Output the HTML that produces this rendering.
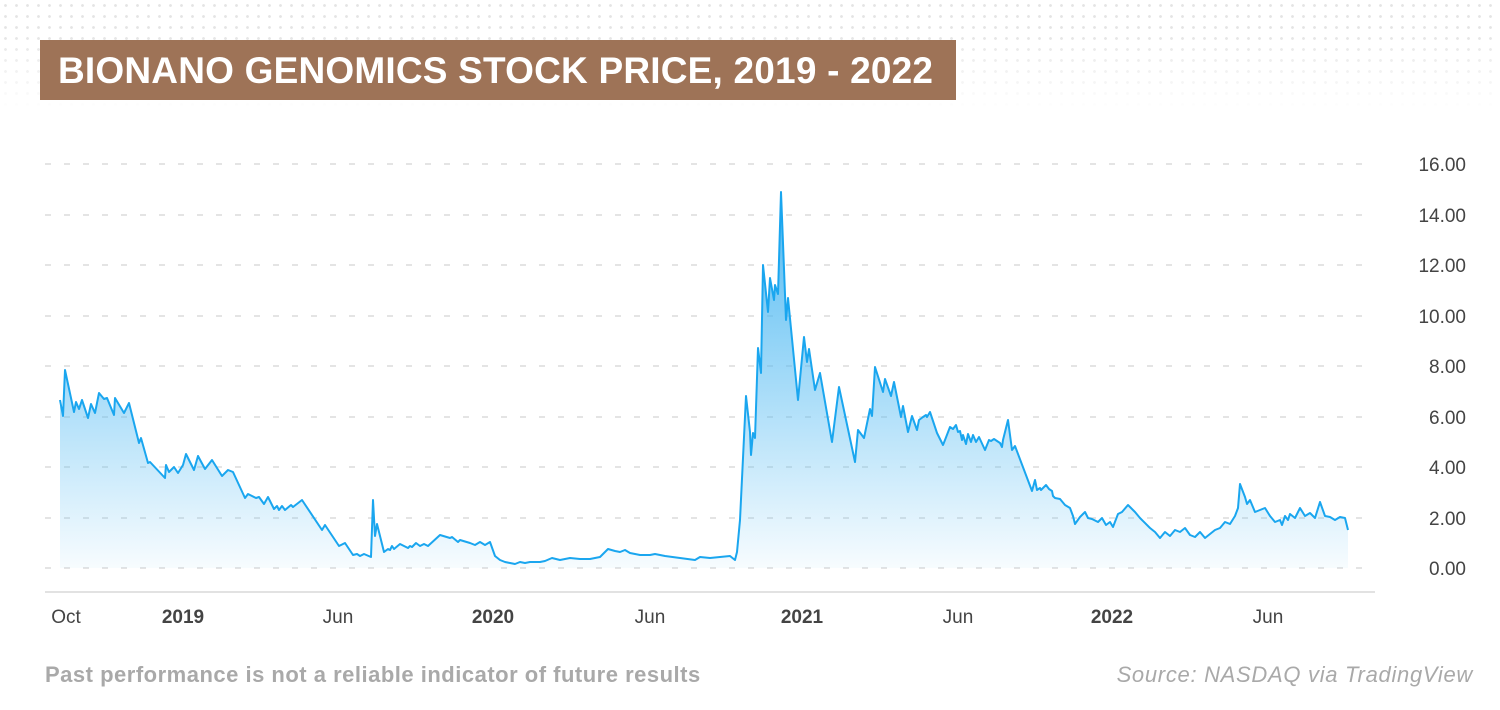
<!DOCTYPE html>
<html><head><meta charset="utf-8"><style>
body{margin:0;width:1500px;height:710px;background:#fff;overflow:hidden;font-family:"Liberation Sans",sans-serif;position:relative}
.dots{position:absolute;left:0;top:0;width:1500px;height:110px;background-image:radial-gradient(circle,#e4e4e4 1.2px,transparent 1.6px);background-size:11px 11px;-webkit-mask-image:linear-gradient(180deg,#000 30%,transparent);mask-image:linear-gradient(180deg,#000 30%,transparent)}
.title{position:absolute;left:40px;top:40px;width:916px;height:60px;background:#9e7357;color:#fff;font-weight:bold;font-size:37px;line-height:62px;padding-left:18px;box-sizing:border-box;letter-spacing:0.2px}
.foot{position:absolute;top:662px;font-size:22px;color:#a9a9a9}
</style></head><body>
<div class="dots"></div>
<div class="title">BIONANO GENOMICS STOCK PRICE, 2019 - 2022</div>
<svg width="1500" height="710" style="position:absolute;left:0;top:0">
<defs><linearGradient id="g" gradientUnits="userSpaceOnUse" x1="0" y1="190" x2="0" y2="570">
<stop offset="0" stop-color="#4fb9f2"/><stop offset="1" stop-color="#4fb9f2" stop-opacity="0.04"/></linearGradient></defs>
<g stroke="#dcdcdc" stroke-width="1.5" stroke-dasharray="6,13">
<line x1="45" x2="1365" y1="164" y2="164"/><line x1="45" x2="1365" y1="215" y2="215"/><line x1="45" x2="1365" y1="265" y2="265"/><line x1="45" x2="1365" y1="316" y2="316"/><line x1="45" x2="1365" y1="366" y2="366"/><line x1="45" x2="1365" y1="417" y2="417"/><line x1="45" x2="1365" y1="467" y2="467"/><line x1="45" x2="1365" y1="518" y2="518"/><line x1="45" x2="1365" y1="568" y2="568"/>
</g>
<line x1="45" x2="1375" y1="592" y2="592" stroke="#d8d8d8" stroke-width="1.5"/>
<g font-size="19" fill="#444" text-anchor="end">
<text x="1466" y="171">16.00</text><text x="1466" y="222">14.00</text><text x="1466" y="272">12.00</text><text x="1466" y="323">10.00</text><text x="1466" y="373">8.00</text><text x="1466" y="424">6.00</text><text x="1466" y="474">4.00</text><text x="1466" y="525">2.00</text><text x="1466" y="575">0.00</text>
</g>
<g font-size="19" fill="#444" text-anchor="middle">
<text x="66" y="623">Oct</text><text x="183" y="623" font-weight="bold">2019</text><text x="338" y="623">Jun</text><text x="493" y="623" font-weight="bold">2020</text><text x="650" y="623">Jun</text><text x="802" y="623" font-weight="bold">2021</text><text x="958" y="623">Jun</text><text x="1112" y="623" font-weight="bold">2022</text><text x="1268" y="623">Jun</text>
</g>
<path fill="url(#g)" stroke="none" d="M60,568 L60,400 63,416 65,370 74,412 76,402 79,409 82,400 88,418 91,404 95,413 99,393 104,399 107,398 114,415 115,398 124,413 129,403 139,443 141,438 148,463 150,462 165,478 166,465 169,472 174,467 178,473 183,465 186,454 194,470 198,456 205,469 212,460 222,476 228,470 233,472 245,498 248,494 256,498 259,497 264,504 268,497 274,509 277,506 279,510 282,506 285,510 291,505 293,507 302,500 322,530 325,525 339,546 345,543 353,555 357,554 360,556 364,554 371,557 373,500 375,536 377,524 384,552 388,549 390,550 392,546 394,549 400,544 408,548 410,546 412,547 416,543 420,546 424,544 428,546 440,535 450,538 452,537 458,542 460,540 470,543 475,545 480,542 485,545 490,542 495,556 500,560 505,562 510,563 515,564 520,562 525,563 530,562 540,562 545,561 552,558 560,560 570,558 580,559 590,559 600,557 608,549 615,551 620,552 625,550 630,553 635,554 640,555 650,555 655,554 665,556 680,558 695,560 700,557 710,558 720,557 730,556 735,560 737,552 740,520 746,396 750,432 751,455 753,433 755,438 758,348 761,373 763,265 768,312 770,278 774,300 775,285 778,294 781,192 786,320 788,298 798,400 804,337 807,362 809,349 815,390 820,373 832,442 839,387 855,462 858,430 864,438 870,409 872,416 875,367 883,392 885,379 891,396 894,382 901,417 903,406 908,432 912,416 917,430 919,420 923,417 926,415 927,417 930,412 937,433 943,445 945,440 950,427 953,429 956,425 958,432 960,431 962,440 963,435 966,444 968,434 971,442 973,435 976,442 979,437 985,450 989,440 991,441 994,439 1000,443 1002,447 1003,440 1008,420 1010,435 1012,450 1015,446 1032,491 1035,480 1037,490 1040,488 1041,490 1046,485 1049,489 1052,491 1053,496 1055,498 1060,499 1065,505 1070,508 1073,516 1075,524 1080,517 1085,512 1088,518 1092,519 1098,522 1102,518 1106,525 1110,522 1113,527 1118,514 1122,512 1128,505 1135,512 1140,518 1150,528 1155,532 1160,538 1165,532 1170,536 1175,530 1180,532 1185,528 1190,535 1195,537 1200,532 1205,538 1210,534 1215,530 1220,528 1225,522 1230,524 1235,516 1238,508 1240,484 1245,497 1247,504 1250,500 1255,512 1260,510 1265,508 1270,516 1275,522 1280,520 1282,525 1285,516 1288,520 1290,514 1295,518 1300,508 1305,516 1310,513 1315,518 1320,502 1325,516 1330,517 1335,520 1340,517 1345,518 1348,530 L1348,568 Z"/>
<path fill="none" stroke="#1aa6ef" stroke-width="2" stroke-linejoin="round" d="M60,400 63,416 65,370 74,412 76,402 79,409 82,400 88,418 91,404 95,413 99,393 104,399 107,398 114,415 115,398 124,413 129,403 139,443 141,438 148,463 150,462 165,478 166,465 169,472 174,467 178,473 183,465 186,454 194,470 198,456 205,469 212,460 222,476 228,470 233,472 245,498 248,494 256,498 259,497 264,504 268,497 274,509 277,506 279,510 282,506 285,510 291,505 293,507 302,500 322,530 325,525 339,546 345,543 353,555 357,554 360,556 364,554 371,557 373,500 375,536 377,524 384,552 388,549 390,550 392,546 394,549 400,544 408,548 410,546 412,547 416,543 420,546 424,544 428,546 440,535 450,538 452,537 458,542 460,540 470,543 475,545 480,542 485,545 490,542 495,556 500,560 505,562 510,563 515,564 520,562 525,563 530,562 540,562 545,561 552,558 560,560 570,558 580,559 590,559 600,557 608,549 615,551 620,552 625,550 630,553 635,554 640,555 650,555 655,554 665,556 680,558 695,560 700,557 710,558 720,557 730,556 735,560 737,552 740,520 746,396 750,432 751,455 753,433 755,438 758,348 761,373 763,265 768,312 770,278 774,300 775,285 778,294 781,192 786,320 788,298 798,400 804,337 807,362 809,349 815,390 820,373 832,442 839,387 855,462 858,430 864,438 870,409 872,416 875,367 883,392 885,379 891,396 894,382 901,417 903,406 908,432 912,416 917,430 919,420 923,417 926,415 927,417 930,412 937,433 943,445 945,440 950,427 953,429 956,425 958,432 960,431 962,440 963,435 966,444 968,434 971,442 973,435 976,442 979,437 985,450 989,440 991,441 994,439 1000,443 1002,447 1003,440 1008,420 1010,435 1012,450 1015,446 1032,491 1035,480 1037,490 1040,488 1041,490 1046,485 1049,489 1052,491 1053,496 1055,498 1060,499 1065,505 1070,508 1073,516 1075,524 1080,517 1085,512 1088,518 1092,519 1098,522 1102,518 1106,525 1110,522 1113,527 1118,514 1122,512 1128,505 1135,512 1140,518 1150,528 1155,532 1160,538 1165,532 1170,536 1175,530 1180,532 1185,528 1190,535 1195,537 1200,532 1205,538 1210,534 1215,530 1220,528 1225,522 1230,524 1235,516 1238,508 1240,484 1245,497 1247,504 1250,500 1255,512 1260,510 1265,508 1270,516 1275,522 1280,520 1282,525 1285,516 1288,520 1290,514 1295,518 1300,508 1305,516 1310,513 1315,518 1320,502 1325,516 1330,517 1335,520 1340,517 1345,518 1348,530"/>
</svg>
<div class="foot" style="left:45px;font-weight:bold;letter-spacing:0.5px">Past performance is not a reliable indicator of future results</div>
<div class="foot" style="right:27px;font-style:italic;letter-spacing:0.7px">Source: NASDAQ via TradingView</div>
</body></html>
